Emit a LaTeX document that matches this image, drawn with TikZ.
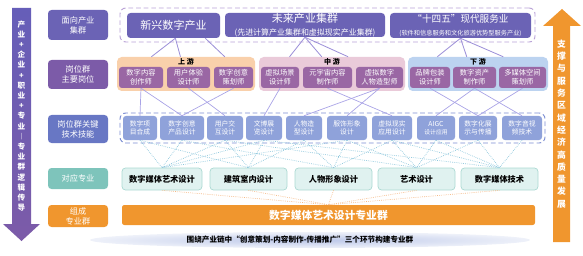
\documentclass[tikz,border=0pt]{standalone}
\usepackage{fontspec}
\setmainfont{Noto Sans CJK SC}
\usetikzlibrary{arrows.meta,calc}
\definecolor{indvio}{HTML}{6B63B5}
\definecolor{grpvio}{HTML}{B9A2D6}
\definecolor{sidejob}{HTML}{7C5BA8}
\definecolor{sideskill}{HTML}{6877C4}
\definecolor{sidemajor}{HTML}{7EC4BB}
\definecolor{orangebar}{HTML}{F0962E}
\definecolor{uppanel}{HTML}{F9D0AB}
\definecolor{midpanel}{HTML}{EACAD9}
\definecolor{downpanel}{HTML}{BCD3F0}
\definecolor{jobvio}{HTML}{9A67A4}
\definecolor{skillblue}{HTML}{8FA2DA}
\definecolor{skillline}{HTML}{7A8CD2}
\definecolor{majorfill}{HTML}{E0F2F0}
\definecolor{majorline}{HTML}{ABD9D3}
\definecolor{linkvio}{HTML}{9C8FD8}
\definecolor{linkpale}{HTML}{A9A3E6}
\definecolor{dotblue}{HTML}{8CC6DC}
\definecolor{dotorange}{HTML}{F5B985}

\begin{document}
\begin{tikzpicture}[x=0.03cm,y=-0.03cm,>=Stealth,
  cell/.style args={#1,#2,#3,#4}{at={(#1/2+#3/2,#2/2+#4/2)},minimum width={(#3-#1)*0.03cm},minimum height={(#4-#2)*0.03cm}},
  box/.style={rounded corners=3pt,inner sep=0pt,align=center,text=white},
  side/.style={box,fill=#1,font=\fontsize{7}{8.6}\selectfont},
  ind/.style={box,fill=indvio},
  grp/.style={draw=#1,dash pattern=on 4pt off 2.5pt,line width=0.8pt,rounded corners=5pt,inner sep=0pt},
  panel/.style={rounded corners=4pt,inner sep=0pt,fill=#1},
  head/.style={font=\bfseries\fontsize{6}{7}\selectfont,text=black,inner sep=1pt},
  job/.style={box,fill=jobvio,rounded corners=2.5pt,font=\fontsize{6.2}{7.4}\selectfont},
  skill/.style={box,fill=skillblue,rounded corners=2.5pt,font=\fontsize{5.8}{6.9}\selectfont},
  major/.style={box,fill=majorfill,draw=majorline,line width=0.6pt,text=black,font=\bfseries\fontsize{7}{8}\selectfont},
  link/.style={draw=linkvio,line width=0.7pt},
  link2/.style={draw=linkpale,line width=0.6pt},
  dotlink/.style={draw=dotblue,densely dotted,line width=0.6pt},
  orgdot/.style={draw=dotorange,densely dotted,line width=0.6pt}]
  \useasboundingbox (0,0) rectangle (583,256);

  \shade[top color=indvio!95!blue,bottom color=sidejob] (12,8) -- (31,8) -- (31,224) -- (40,224) -- (21.5,241) -- (3,224) -- (12,224) -- cycle;
  \node[text=white,align=center,font=\bfseries\fontsize{6.5}{8.7}\selectfont] (lefttxt) at (21.5,116)
    {产\\业\\+\\企\\业\\+\\职\\业\\+\\专\\业\\︱\\专\\业\\群\\逻\\辑\\传\\导};
  \fill[orangebar] (553,242) -- (553,26) -- (543,26) -- (562,9) -- (581,26) -- (570,26) -- (570,242) -- cycle;
  \node[text=white,align=center,font=\bfseries\fontsize{7.5}{10.5}\selectfont] (righttxt) at (561.5,124)
    {支\\撑\\与\\服\\务\\区\\域\\经\\济\\高\\质\\量\\发\\展};

  \node[side=indvio,cell={48,10,108,40}] (l1) {面向产业\\集群};
  \node[side=sidejob,cell={48,60,108,89}] (l2) {岗位群\\主要岗位};
  \node[side=sideskill,cell={48,115,108,143}] (l3) {岗位群关键\\技术技能};
  \node[side=sidemajor,cell={48,168,108,189}] (l4) {对应专业};
  \node[side=orangebar,cell={48,205,108,227}] (l5) {组成\\专业群};

  \node[grp=grpvio,cell={120,8,535,42}] (indgrp) {};
  \node[ind,cell={127,13,220,38},font=\fontsize{9.4}{11}\selectfont] (ind1) {新兴数字产业};
  \node[ind,cell={225,13,385,37}] (ind2) {{\fontsize{9.4}{11}\selectfont 未来产业集群}\\[-1pt]{\fontsize{6.8}{8}\selectfont (先进计算产业集群和虚拟现实产业集群)}};
  \node[ind,cell={390,13,531,38}] (ind3) {{\fontsize{8.2}{10}\selectfont “十四五”现代服务业}\\[-1pt]{\fontsize{5.3}{6.5}\selectfont (软件和信息服务和文化旅游优势型服务产业)}};

  \node[panel=uppanel,cell={117,57,255,91},label={[head,anchor=north]north:上~游}] (up) {};
  \node[panel=midpanel,cell={259,57,405,91},label={[head,anchor=north]north:中~游}] (mid) {};
  \node[panel=downpanel,cell={408,57,548,91},label={[head,anchor=north]north:下~游}] (down) {};
  \node[job,cell={119,67,163,88}] (j1) {数字内容\\创作师};
  \node[job,cell={167,67,210,88}] (j2) {用户体验\\设计师};
  \node[job,cell={214,67,253,88}] (j3) {数字创意\\策划师};
  \node[job,cell={261,67,299,88}] (j4) {虚拟场景\\设计师};
  \node[job,cell={303,67,352,88}] (j5) {元宇宙内容\\制作师};
  \node[job,cell={356,67,403,88}] (j6) {虚拟数字\\人物造型师};
  \node[job,cell={410,67,450,88}] (j7) {品牌包装\\设计师};
  \node[job,cell={453,67,496,88}] (j8) {数字资产\\制作师};
  \node[job,cell={499,67,546,88}] (j9) {多媒体空间\\策划师};

  \node[grp=skillline,cell={120,113,545,143}] (skillgrp) {};
  \node[skill,cell={123,116,157,140}] (s1) {数字项\\目合成};
  \node[skill,cell={160,116,204,140}] (s2) {数字创意\\产品设计};
  \node[skill,cell={207,116,243,140}] (s3) {用户交\\互设计};
  \node[skill,cell={246,116,282,140}] (s4) {文博展\\览设计};
  \node[skill,cell={286,116,322,140}] (s5) {人物造\\型设计};
  \node[skill,cell={327,116,367,140}] (s6) {服饰形象\\设计};
  \node[skill,cell={372,116,412,140}] (s7) {虚拟现实\\应用设计};
  \node[skill,cell={417,116,455,140}] (s8) {AIGC\\{\fontsize{5}{6}\selectfont 设计应用}};
  \node[skill,cell={459,116,497,140}] (s9) {数字化展\\示与传播};
  \node[skill,cell={502,116,542,140}] (s10) {数字音视\\频技术};

  \node[major,cell={122,168,202,190}] (m1) {数字媒体艺术设计};
  \node[major,cell={210,168,287,190}] (m2) {建筑室内设计};
  \node[major,cell={295,168,372,190}] (m3) {人物形象设计};
  \node[major,cell={378,168,455,190}] (m4) {艺术设计};
  \node[major,cell={461,168,538,190}] (m5) {数字媒体技术};

  \node[box,fill=orangebar,rounded corners=2pt,cell={122,205,535,225},font=\bfseries\fontsize{9.2}{11}\selectfont] (bar) {数字媒体艺术设计专业群};

  \shade[inner color=skillblue!60,outer color=skillblue!15] (310,240) ellipse [x radius=220,y radius=8];
  \node[font=\bfseries\fontsize{6.5}{8}\selectfont] (chain) at (300,240) {围绕产业链中“创意策划-内容制作-传播推广”三个环节构建专业群};

  \foreach \a/\p/\b/\q in {ind1/.52/up/.25,ind1/.52/up/.46,ind1/.84/up/.78,ind2/.5/mid/.21,ind2/.5/mid/.43,ind2/.5/mid/.61,ind3/.5/down/.21,ind3/.5/down/.42,ind3/.5/down/.68}
    \draw[link] ($(\a.south west)!\p!(\a.south east)$) -- ($(\b.north west)!\q!(\b.north east)$);
  \foreach \j/\s in {j1/s1,j1/s2,j2/s3,j3/s2,j4/s4,j5/s7,j6/s5,j6/s6,j7/s9,j8/s8,j8/s10,j9/s9}
    \draw[link2] (\j.south) -- (\s.north);
  \foreach \s/\m in {s1/m1,s2/m1,s3/m1,s4/m1,s6/m1,s1/m2,s3/m2,s4/m2,s5/m2,s2/m3,s5/m3,s6/m3,s7/m3,s3/m4,s6/m4,s7/m4,s8/m4,s9/m4,s4/m5,s7/m5,s8/m5,s9/m5,s10/m5}
    \draw[dotlink] (\s.south) -- (\m.north);
  \foreach \m in {m1,m2,m3,m4,m5}
    \draw[orgdot] (\m.south) -- (bar.north);
\end{tikzpicture}
\end{document}
